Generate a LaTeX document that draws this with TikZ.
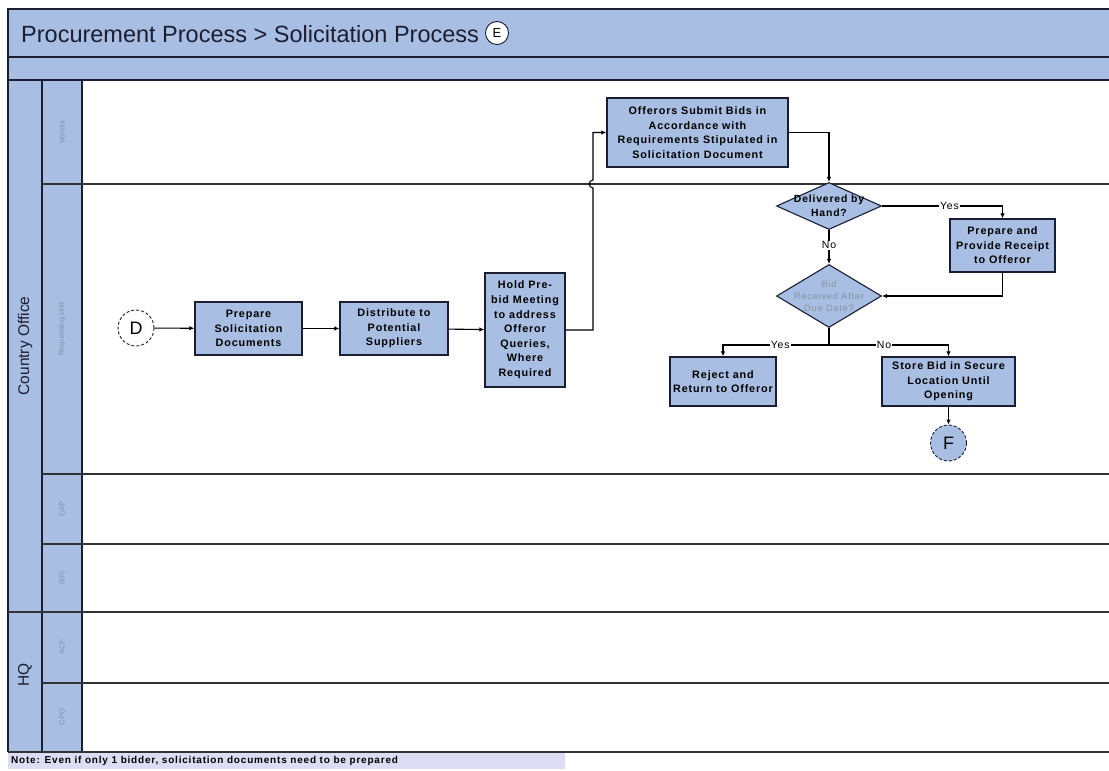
\documentclass[tikz,border=0pt]{standalone}
\usepackage{fontspec}
\setmainfont{Liberation Sans}
\newfontfamily\boxfont[LetterSpace=8]{Liberation Sans}
\usetikzlibrary{shapes.geometric,arrows.meta}
\definecolor{band}{HTML}{A8BEE2}
\definecolor{boxfill}{HTML}{A8BEE2}
\definecolor{navy}{HTML}{1B1D33}
\definecolor{laneline}{HTML}{333333}
\definecolor{notefill}{HTML}{DCDCF4}
\definecolor{lanetext}{HTML}{8A90A4}
\tikzset{
  task/.style={draw=navy, line width=1.3pt, fill=boxfill, align=center,
    inner sep=0pt, text=black,
    font=\boxfont\bfseries\fontsize{10.8}{14.6}\selectfont},
  decision/.style={diamond, draw=navy, line width=1.1pt, fill=boxfill,
    align=center, inner sep=-5pt, aspect=2.2, text=black,
    font=\boxfont\bfseries\fontsize{10.4}{14}\selectfont},
  conn/.style={line width=1.1pt, draw=black},
  flow/.style={conn, -{Latex[length=5pt,width=4.5pt]}},
  offpage/.style={circle, draw=navy, densely dashed, line width=0.9pt,
    minimum size=36pt, inner sep=0pt, font=\fontsize{18}{18}\selectfont},
  poolname/.style={rotate=90, font=\fontsize{15.5}{15.5}\selectfont, text=navy},
  lanename/.style={rotate=90, font=\fontsize{7.5}{7.5}\selectfont, text=lanetext},
  branch/.style={fill=white, inner sep=1pt,
    font=\boxfont\fontsize{10.5}{10.5}\selectfont},
  frame/.style={draw=navy, line width=1.4pt},
  lanesep/.style={draw=laneline, line width=1.4pt}
}
\begin{document}
\begin{tikzpicture}[x=1pt, y=-1pt]
\useasboundingbox (0,0) rectangle (1109,771);
\fill[white] (0,0) rectangle (1109,771);

% header bands and pool / lane header columns
\fill[band] (8,9) rectangle (1109,80);
\fill[band] (8,80) rectangle (82,752);
\draw[frame] (1109,9) -- (8,9) -- (8,752);
\draw[frame] (8,57) -- (1109,57);
\draw[frame] (8,80) -- (1109,80);
\draw[frame] (42,80) -- (42,752);
\draw[frame] (82,80) -- (82,752);

% lane separators
\draw[lanesep] (42,184) -- (1109,184);
\draw[lanesep] (42,474) -- (1109,474);
\draw[lanesep] (42,544) -- (1109,544);
\draw[lanesep] (8,612) -- (1109,612);
\draw[lanesep] (42,683) -- (1109,683);
\draw[lanesep] (8,752) -- (1109,752);

% title
\node[anchor=west, inner sep=0pt, text=navy, font=\fontsize{23.5}{23.5}\selectfont]
  (title) at (21,34) {Procurement Process > Solicitation Process};
\node[circle, draw=navy, fill=white, line width=0.9pt, minimum size=23pt,
  inner sep=0pt, font=\fontsize{13}{13}\selectfont] (pageref) at (497,33) {E};

% pool and lane names
\node[poolname] (pCO) at (25,346) {Country Office};
\node[poolname] (pHQ) at (25,675) {HQ};
\node[lanename] (lVendor) at (62,132) {Vendor};
\node[lanename] (lReq) at (62,329) {Requesting Unit};
\node[lanename] (lCAP) at (62,509) {CAP};
\node[lanename] (lRPI) at (62,578) {RPI};
\node[lanename] (lACP) at (62,647) {ACP};
\node[lanename] (lCPO) at (62,717) {CPO};

% note strip
\fill[notefill] (8,753) rectangle (565,769);
\node[anchor=west, inner sep=0pt, font=\boxfont\bfseries\fontsize{10}{10}\selectfont]
  (note) at (11,761) {Note: Even if only 1 bidder, solicitation documents need to be prepared};

% activities
\node[offpage, fill=white] (D) at (136,328) {D};
\node[task, minimum width=107pt, minimum height=53pt] (prep) at (248.5,328.5)
  {Prepare\\Solicitation\\Documents};
\node[task, minimum width=108pt, minimum height=53pt] (dist) at (394,328.5)
  {Distribute to\\Potential\\Suppliers};
\node[task, minimum width=80pt, minimum height=114pt] (hold) at (525,330)
  {Hold Pre-\\bid Meeting\\to address\\Offeror\\Queries,\\Where\\Required};
\node[task, minimum width=181pt, minimum height=69pt] (submit) at (697.5,132.5)
  {Offerors Submit Bids in\\Accordance with\\Requirements Stipulated in\\Solicitation Document};
\node[decision, minimum width=105pt, minimum height=47pt] (q1) at (829,206)
  {Delivered by\\Hand?};
\node[task, minimum width=105pt, minimum height=53pt] (receipt) at (1002.5,245.5)
  {Prepare and\\Provide Receipt\\to Offeror};
\node[decision, minimum width=105pt, minimum height=63pt, text=lanetext,
  inner sep=-9pt, font=\boxfont\fontsize{9.3}{12}\selectfont] (q2) at (829,296)
  {Bid\\Received After\\Due Date?};
\node[task, minimum width=106pt, minimum height=49pt] (reject) at (723,381.5)
  {Reject and\\Return to Offeror};
\node[task, minimum width=133pt, minimum height=49pt] (store) at (948.5,381.5)
  {Store Bid in Secure\\Location Until\\Opening};
\node[offpage, fill=boxfill] (F) at (948.5,443) {F};

% junction points
\coordinate (hopA) at (593,188);
\coordinate (hopB) at (593,180);
\coordinate (split) at (829,345);

% sequence flows
\draw[flow] (D) -- (prep);
\draw[flow] (prep) -- (dist);
\draw[flow] (dist) -- (hold);
\draw[flow] (hold.east) -| (hopA)
  .. controls +(-5,0) and +(-5,0) .. (hopB) |- (submit.west);
\draw[flow] (submit.east) -| (q1.north);
\draw[flow] (q1.east) -| node[branch, pos=0.28] {Yes} (receipt.north);
\draw[flow] (receipt.south) |- (q2.east);
\draw[flow] (q1.south) -- node[branch, pos=0.45] {No} (q2.north);
\draw[conn] (q2.south) -- (split);
\draw[flow] (split) -| node[branch, pos=0.23] {Yes} (reject.north);
\draw[flow] (split) -| node[branch, pos=0.23] {No} (store.north);
\draw[flow] (store.south) -- (F);
\end{tikzpicture}
\end{document}
